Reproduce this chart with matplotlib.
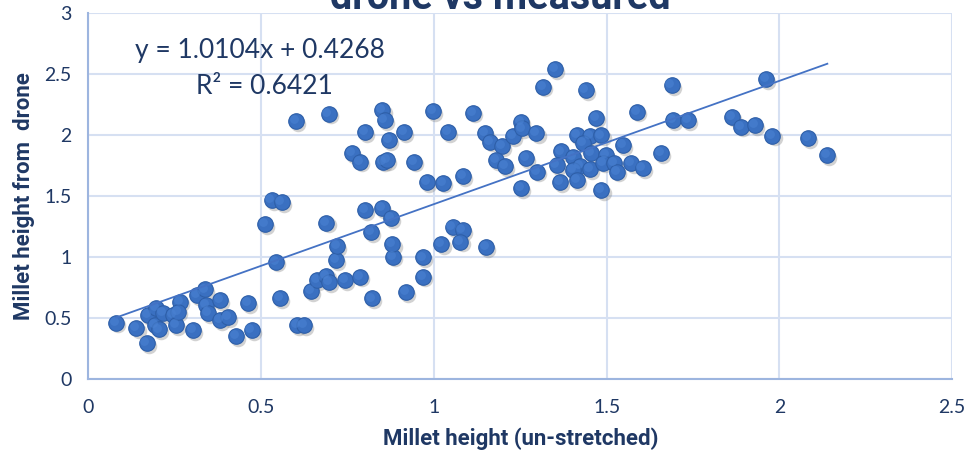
import matplotlib
matplotlib.use("Agg")
import matplotlib.pyplot as plt
import matplotlib.transforms as mtransforms
import numpy as np

plt.rcParams['font.family'] = ['Lato', 'DejaVu Sans']
bold_family = ['Roboto', 'DejaVu Sans']

# Measured millet height (un-stretched) vs height estimated from drone imagery
measured = [
    0.08, 0.139, 0.168, 0.173, 0.195, 0.192, 0.205, 0.216, 0.245, 0.253,
    0.265, 0.26, 0.303, 0.313, 0.337, 0.34, 0.347, 0.381, 0.381, 0.405,
    0.427, 0.461, 0.472,
    0.511, 0.53, 0.559, 0.543, 0.554, 0.603, 0.624, 0.643, 0.662, 0.689,
    0.697, 0.742, 0.786, 0.82, 0.919, 0.969, 0.969, 0.882, 0.88, 0.716,
    0.72, 0.689, 0.80, 0.849, 0.875, 0.817,
    0.60, 0.695, 0.851, 0.857, 0.80, 0.913, 0.871, 0.762, 0.786, 0.853,
    0.863, 0.942, 0.998, 1.114, 1.041, 0.979, 1.027, 1.085,
    1.022, 1.054, 1.083, 1.077, 1.15,
    1.148, 1.162, 1.197, 1.23, 1.251, 1.254, 1.297, 1.179, 1.205, 1.266,
    1.299, 1.251, 1.316, 1.35, 1.439,
    1.368, 1.355, 1.364, 1.414, 1.452, 1.485, 1.432, 1.548, 1.454, 1.498,
    1.403, 1.423, 1.451, 1.49, 1.521, 1.531, 1.572, 1.604, 1.403, 1.415,
    1.485, 1.469,
    1.587, 1.657, 1.688, 1.693, 1.736, 1.864, 1.888, 1.929, 1.961, 1.98,
    2.082, 2.139,
]
drone = [
    0.466, 0.42, 0.297, 0.529, 0.584, 0.447, 0.411, 0.543, 0.529, 0.447,
    0.638, 0.556, 0.406, 0.693, 0.739, 0.611, 0.543, 0.652, 0.488, 0.51,
    0.357, 0.625, 0.406,
    1.275, 1.471, 1.457, 0.966, 0.67, 0.447, 0.447, 0.725, 0.816, 0.851,
    0.80, 0.816, 0.843, 0.665, 0.715, 0.843, 1.0, 1.007, 1.11, 0.98,
    1.094, 1.285, 1.389, 1.403, 1.321, 1.211,
    2.119, 2.18, 2.209, 2.127, 2.03, 2.03, 1.963, 1.854, 1.786, 1.786,
    1.80, 1.786, 2.2, 2.187, 2.03, 1.621, 1.613, 1.668,
    1.108, 1.252, 1.225, 1.13, 1.088,
    2.018, 1.95, 1.914, 1.996, 2.113, 2.058, 2.018, 1.80, 1.75, 1.813,
    1.703, 1.567, 2.40, 2.543, 2.373,
    1.87, 1.758, 1.621, 2.004, 1.996, 2.0, 1.936, 1.92, 1.854, 1.84,
    1.826, 1.75, 1.723, 1.777, 1.772, 1.703, 1.772, 1.731, 1.717, 1.635,
    1.553, 2.146,
    2.195, 1.856, 2.414, 2.127, 2.127, 2.154, 2.072, 2.086, 2.461, 1.999,
    1.977, 1.84,
]

# Linear trendline coefficients and fit quality
slope = 1.0104
intercept = 0.4268
r_squared = 0.6421

x_ticks = [0, 0.5, 1, 1.5, 2, 2.5]
y_ticks = [0, 0.5, 1, 1.5, 2, 2.5, 3]

navy = '#1F3864'
grid_blue = '#D6E0F2'
axis_blue = '#9DB5DF'
marker_blue = '#3A70C1'

fig = plt.figure(figsize=(9.69, 4.57), dpi=100)
ax = fig.add_axes([0.0913, 0.1696, 0.8912, 0.8009])

ax.set_xlim(0, 2.5)
ax.set_ylim(0, 3)
ax.set_xticks(x_ticks)
ax.set_yticks(y_ticks)
ax.set_xticklabels([f'{t:g}' for t in x_ticks])
ax.set_yticklabels([f'{t:g}' for t in y_ticks])

ax.grid(True, color=grid_blue, linewidth=1.5, zorder=0)
ax.set_axisbelow(True)
for side in ('top', 'right'):
    ax.spines[side].set_visible(False)
for side in ('left', 'bottom'):
    ax.spines[side].set_color(axis_blue)
    ax.spines[side].set_linewidth(1.5)
ax.tick_params(length=0, labelsize=14, colors=navy, pad=14)
ax.tick_params(axis='y', pad=12)

# soft drop shadow under each marker
shadow = mtransforms.offset_copy(ax.transData, fig=fig, x=1.5, y=-2.0, units='points')
ax.scatter(measured, drone, s=125, color='#7F7F7F', alpha=0.35, linewidths=0,
           transform=shadow, zorder=2, clip_on=False)
ax.scatter(measured, drone, s=125, color=marker_blue, edgecolors='#2E5FA8',
           linewidths=0.8, zorder=3, clip_on=False)
ax.scatter(np.array(measured) - 0.006, np.array(drone) + 0.015, s=40,
           color='#4A82D2', linewidths=0, alpha=0.6, zorder=4, clip_on=False)

x_fit = np.array([min(measured), max(measured)])
ax.plot(x_fit, slope * x_fit + intercept, color='#4472C4', linewidth=1.3, zorder=5)

ax.text(0.135, 2.7, f'y = {slope:.4f}x + {intercept:.4f}', fontsize=19,
        color=navy, ha='left', va='center', zorder=6)
ax.text(0.31, 2.4, f'R² = {r_squared:.4f}', fontsize=19,
        color=navy, ha='left', va='center', zorder=6)

ax.set_xlabel('Millet height (un-stretched)', fontsize=16, fontweight='bold',
              color=navy, labelpad=8, fontfamily=bold_family)
ax.set_ylabel('Millet height from  drone', fontsize=16, fontweight='bold',
              color=navy, labelpad=7, fontfamily=bold_family)

fig.text(0.516, 0.98, 'drone vs measured', fontsize=28.5, fontweight='bold',
         color=navy, ha='center', va='baseline', fontfamily=bold_family)

fig.savefig('out.png', dpi=100)
